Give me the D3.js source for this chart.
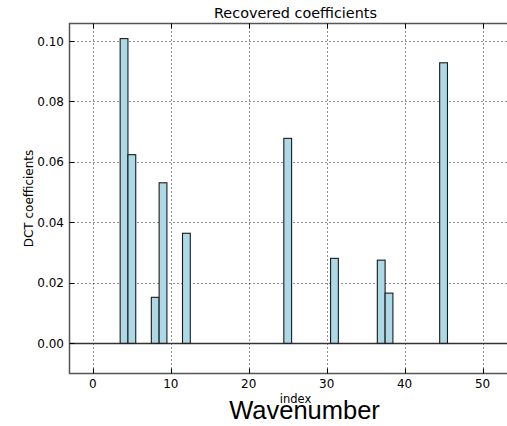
<!DOCTYPE html>
<html>
<head>
<meta charset="utf-8">
<script src="https://cdn.jsdelivr.net/npm/d3@7"></script>
<style>
  html, body { margin: 0; padding: 0; background: #fff; }
  svg { display: block; }
</style>
</head>
<body>
<svg id="chart" width="507" height="426"></svg>
<script>
// Data
const indices = [4, 5, 8, 9, 12, 25, 31, 37, 38, 45];
const coefficients = [0.1008, 0.0624, 0.0152, 0.0531, 0.0364, 0.0678, 0.0281, 0.0275, 0.0166, 0.0928];
const xTicks = [0, 10, 20, 30, 40, 50];
const yTicks = [0.00, 0.02, 0.04, 0.06, 0.08, 0.10];
const xDomain = [-3, 55];
const yDomain = [-0.01, 0.1058];
const titleText = "Recovered coefficients";
const xLabelText = "index";
const yLabelText = "DCT coefficients";
const extraLabelText = "Wavenumber";

const svg = d3.select("#chart");
const pL = 69.5, pR = 521.5, pT = 23.5, pB = 373.5;

const x = d3.scaleLinear().domain(xDomain).range([pL, pR]);
const y = d3.scaleLinear().domain(yDomain).range([pB, pT]);

const font = "'DejaVu Sans', sans-serif";

// Grid
const grid = svg.append("g");
xTicks.forEach(t => {
  grid.append("line")
    .attr("x1", Math.round(x(t)) + 0.5).attr("x2", Math.round(x(t)) + 0.5)
    .attr("y1", pT).attr("y2", pB)
    .attr("stroke", "#222").attr("stroke-width", 1)
    .attr("stroke-dasharray", "1,3");
});
yTicks.forEach(t => {
  grid.append("line")
    .attr("y1", Math.round(y(t)) + 0.5).attr("y2", Math.round(y(t)) + 0.5)
    .attr("x1", pL).attr("x2", pR)
    .attr("stroke", "#222").attr("stroke-width", 1)
    .attr("stroke-dasharray", "1,3");
});

// Zero line
svg.append("line")
  .attr("x1", pL).attr("x2", pR)
  .attr("y1", Math.round(y(0)) + 0.5).attr("y2", Math.round(y(0)) + 0.5)
  .attr("stroke", "#333").attr("stroke-width", 1.3);

// Bars
svg.append("g").selectAll("rect")
  .data(indices.map((d, i) => ({ idx: d, v: coefficients[i] })))
  .join("rect")
  .attr("x", d => x(d.idx - 0.5))
  .attr("width", d => x(d.idx + 0.5) - x(d.idx - 0.5))
  .attr("y", d => y(d.v))
  .attr("height", d => y(0) - y(d.v))
  .attr("fill", "#add8e6")
  .attr("stroke", "#1a1a1a")
  .attr("stroke-width", 1.1);

// Spines
const spine = svg.append("g").attr("stroke", "#555").attr("stroke-width", 1.5).attr("fill", "none");
spine.append("rect").attr("x", pL).attr("y", pT).attr("width", pR - pL).attr("height", pB - pT);

// Ticks (inward, all sides)
const tk = svg.append("g").attr("stroke", "#000").attr("stroke-width", 1);
xTicks.forEach(t => {
  const xx = Math.round(x(t)) + 0.5;
  tk.append("line").attr("x1", xx).attr("x2", xx).attr("y1", pB).attr("y2", pB - 5);
  tk.append("line").attr("x1", xx).attr("x2", xx).attr("y1", pT).attr("y2", pT + 5);
});
yTicks.forEach(t => {
  const yy = Math.round(y(t)) + 0.5;
  tk.append("line").attr("y1", yy).attr("y2", yy).attr("x1", pL).attr("x2", pL + 5);
  tk.append("line").attr("y1", yy).attr("y2", yy).attr("x1", pR).attr("x2", pR - 5);
});

// Tick labels
svg.append("g").selectAll("text").data(xTicks).join("text")
  .attr("x", d => x(d)).attr("y", 388)
  .attr("text-anchor", "middle")
  .attr("font-family", font).attr("font-size", 12)
  .text(d => d3.format("d")(d));

svg.append("g").selectAll("text").data(yTicks).join("text")
  .attr("x", 64).attr("y", d => y(d) + 4.5)
  .attr("text-anchor", "end")
  .attr("font-family", font).attr("font-size", 12)
  .text(d => d3.format(".2f")(d));

// Title
svg.append("text")
  .attr("x", (pL + pR) / 2).attr("y", 18)
  .attr("text-anchor", "middle")
  .attr("font-family", font).attr("font-size", 14.4)
  .text(titleText);

// X label
svg.append("text")
  .attr("x", (pL + pR) / 2).attr("y", 403)
  .attr("text-anchor", "middle")
  .attr("font-family", font).attr("font-size", 11.5)
  .text(xLabelText);

// Y label
svg.append("text")
  .attr("transform", `translate(33, ${(pT + pB) / 2}) rotate(-90)`)
  .attr("text-anchor", "middle")
  .attr("font-family", font).attr("font-size", 12)
  .text(yLabelText);

// Wavenumber
svg.append("text")
  .attr("x", (228 + 381) / 2).attr("y", 419)
  .attr("text-anchor", "middle")
  .attr("font-family", "'Liberation Sans', Arial, sans-serif").attr("font-size", 25.5)
  .text(extraLabelText);
</script>
</body>
</html>
